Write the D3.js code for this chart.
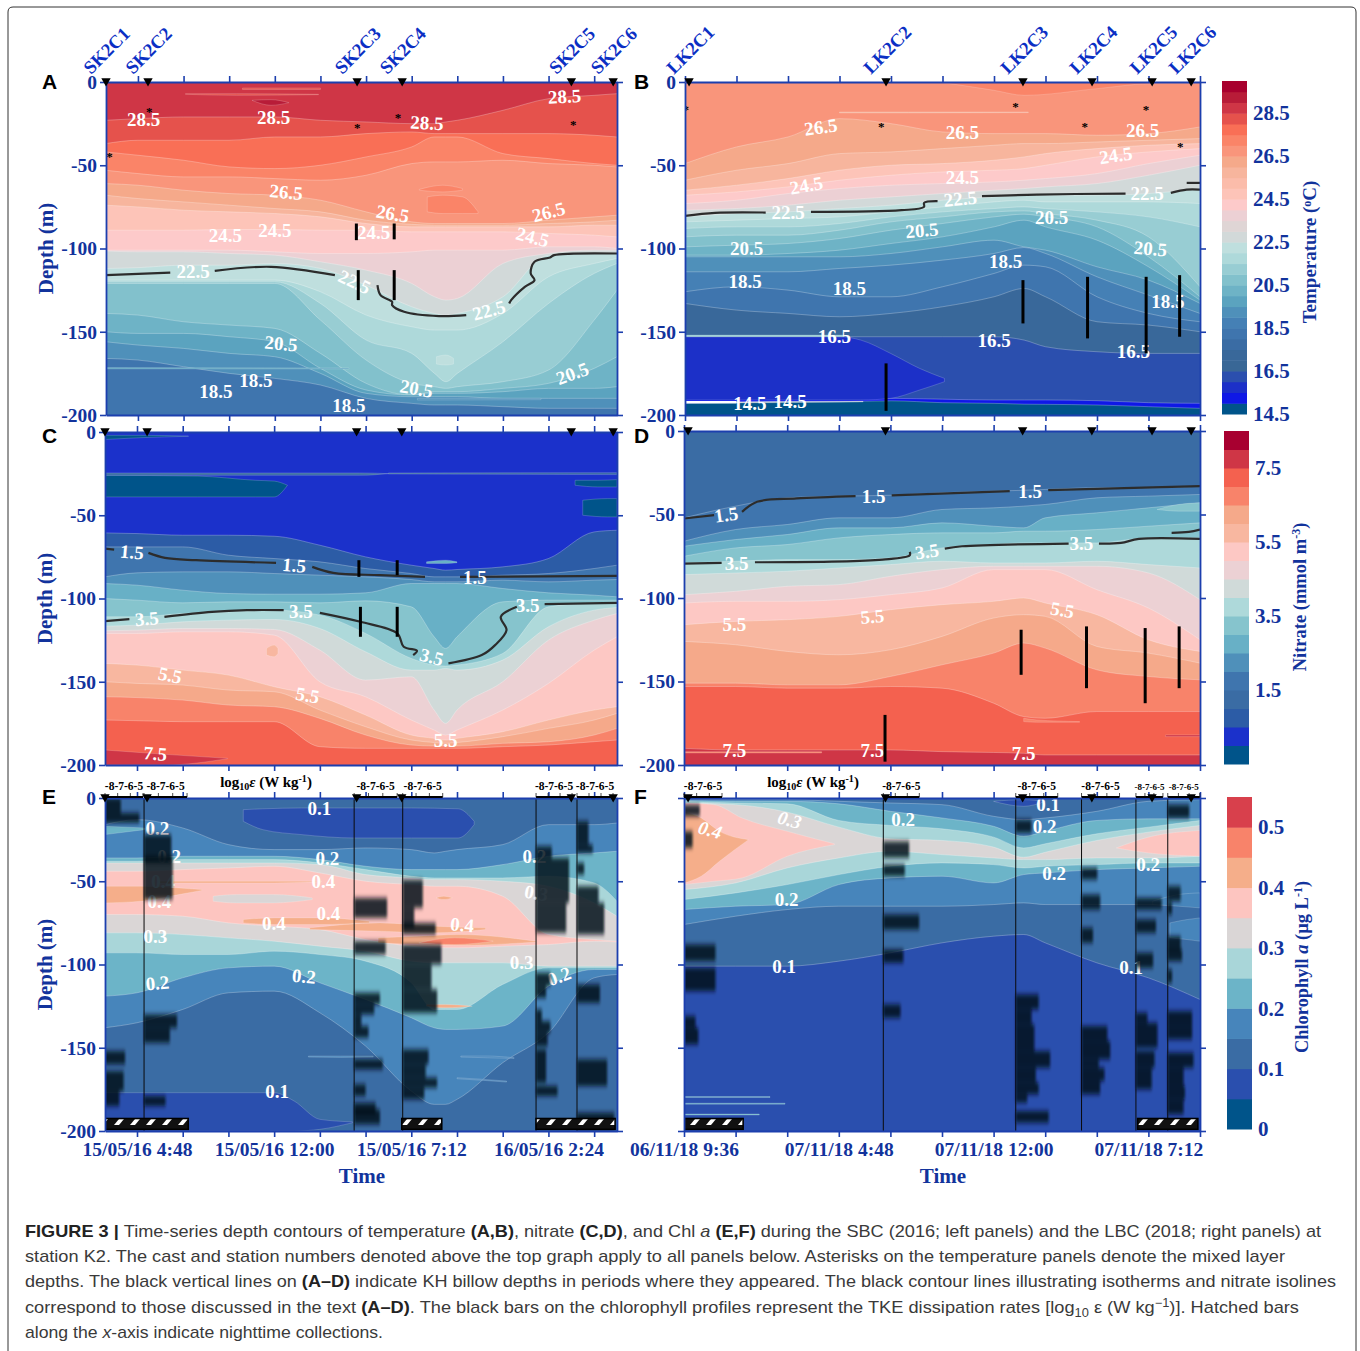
<!DOCTYPE html>
<html><head><meta charset="utf-8">
<script src="https://cdn.jsdelivr.net/npm/d3@7"></script>
<style>html,body{margin:0;padding:0;background:#fff}svg{display:block}text{font-family:"Liberation Serif",serif}</style>
</head><body><div id="chart"></div>
<script>
// ---------- shared data ----------
const sbcNodes=[3.1,4.8,7.2,9.6,12,14.4,16.8,19.2,20.4,21,21.6,24,26.4,28.8,30];
const lbcNodes=[9.6,12,14.4,16.8,19.2,21.6,24,25.4,26.4,28.8,31.2,33.6];
const sbcTicks=[4.8,7.2,9.6,12,14.4,16.8,19.2,21.6,24,26.4,28.8];
const lbcTicks=[9.6,12,14.4,16.8,19.2,21.6,24,26.4,28.8,31.2,33.6];
const sbcTimeLabels=["15/05/16 4:48","","","15/05/16 12:00","","","15/05/16 7:12","","","16/05/16 2:24",""];
const lbcTimeLabels=["06/11/18 9:36","","","07/11/18 4:48","","","07/11/18 12:00","","","07/11/18 7:12",""];
const sbcStations=["SK2C1","SK2C2","SK2C3","SK2C4","SK2C5","SK2C6"];
const lbcStations=["LK2C1","LK2C2","LK2C3","LK2C4","LK2C5","LK2C6"];
const sbcStationHours=[3.12,5.33,16.33,18.7,27.6,29.8];
const lbcStationHours=[9.79,18.97,25.35,28.57,31.37,33.19];
const depthTicks=[0,-50,-100,-150,-200];

const tempPalette=["#00548a","#0f18e6","#1c30c8","#2b4fae","#396796","#39689a","#3a6ca4","#3f75ae","#4580b5","#4f90ba","#5ba3bf","#6eb3c6","#82c1cc","#98cdd3","#aed9da","#bfdfde","#d2d9d9","#dfd5d5","#ecd0d4","#fdcaca","#fdc4b8","#fbbcaa","#f7b59d","#f5a98a","#f9957b","#fa8468","#f96f56","#e5524c","#cf3646","#b81c38","#a8002e"];
const nitratePalette=["#00548a","#1b31cb","#2c5ca6","#3a6ca4","#3f75ae","#4f90ba","#68b0c6","#86c4cd","#aed9da","#d0dad9","#ecd1d4","#fdc8c4","#f8b7a0","#f5a98a","#f8836a","#f4614f","#cf3646","#a80030"];
const chlPalette=["#00548a","#2a4fae","#3a6ca4","#4785bb","#6cb4c8","#a9d6d9","#dad6d6","#fdc5c0","#f5ae8a","#f8836a","#d8404c"];

// ---------- panel A: temperature, SBC ----------
const bandsA=[28.75,28.25,27.75,27.25,26.75,26.25,25.75,24.75,24.25,23.75,22.75,22.25,21.75,21.25,20.75,20.25,19.75,19.25,18.25];
const depthsA=[
[-23,-22,-21,-21,-21,-23,-24,-25,-25,-24,-23,-17,-10,-8,-7],
[-37,-35,-35,-35,-33,-33,-31,-30,-31,-31,-31,-31,-31,-32,-33],
[-42,-44,-47,-51,-52,-50,-45,-39,-33,-33,-33,-43,-46,-49,-50],
[-53,-55,-57,-57,-58,-59,-56,-49,-48,-48,-48,-47,-49,-50,-51],
[-61,-62,-65,-67,-68,-71,-78,-84,-85,-85,-85,-85,-83,-81,-80],
[-68,-70,-72,-74,-76,-78,-83,-85.5,-86,-86,-86,-86,-85,-84,-83],
[-74,-75,-77,-78,-79,-81,-85,-87,-87,-87,-87,-87,-87,-86,-86],
[-89,-89,-89,-88.6,-88.6,-89,-89,-90,-90,-90,-90,-90,-91,-92,-93],
[-101,-101,-101,-101,-102,-103,-103,-102,-101,-101,-101,-101,-99,-99,-100],
[-101.5,-102,-102,-103,-104,-108,-113,-121,-129,-131,-130,-109,-103,-101,-101],
[-112,-111.5,-110,-110,-109,-112,-122,-135,-139,-140,-139,-129,-104,-103,-103],
[-119,-119,-119,-119,-119,-126,-140,-147,-149,-149,-149,-139,-117,-109,-106],
[-120,-120,-120,-120,-120,-133,-155,-163,-175,-180,-175,-156,-133,-115,-109],
[-121,-121,-121,-121,-121,-143,-167,-181,-183,-184,-183,-180,-173,-143,-125],
[-139,-140,-144,-146,-148,-163,-181,-188,-186,-186,-186,-184,-181,-172,-165],
[-150,-151,-151,-153,-156,-172,-185,-188,-187,-187,-187,-186,-184,-184,-183],
[-156,-158,-160,-163,-165,-175,-187,-189,-189,-189,-189,-190,-190,-190,-190],
[-166,-167,-171,-175,-178,-182,-190,-193,-194,-194,-194,-195,-196,-196,-196]];
const pocketsA=[
{v:29.25,x:[10.8,11.8,12.74],top:[-11,-10.6,-12.4],bot:[-11,-14,-12.4]},
{v:28.25,x:[10.3,14.4],top:[-3.6,-3.6],bot:[-4.5,-4.5]},
{v:28.25,x:[7.3,10,14.3],top:[-7,-7,-7.4],bot:[-7.4,-8,-7.6]},
{v:27.25,x:[20.02,20.84,21.87,22.69],top:[-69,-68,-69,-78],bot:[-78,-79,-79,-79]},
{v:27.25,x:[19.6,20.84,21.87],top:[-64.5,-62,-64],bot:[-65,-66,-65]},
{v:22.25,x:[20.5,21,21.4],top:[-165,-164,-166],bot:[-169.4,-170,-169.4]},
{v:19.75,x:[3.1,15.9],top:[-171.5,-171.8],bot:[-172.3,-172.3]},
{v:19.25,x:[19.5,26],top:[-190,-190],bot:[-191,-190.8]}];
const isolinesA=[
[[3.1,-116],[6.5,-114.5]],
[[8.84,-113.4],[11.8,-111],[15.16,-116]],
[[17.4,-122],[17.56,-128],[18.17,-132],[18.17,-134],[18.8,-138],[20.64,-140.6],[22.07,-140]],
[[24.33,-133],[24.43,-131],[25.15,-123],[25.66,-119],[25.46,-115],[25.66,-108],[26.48,-105.4],[26.69,-104],[30,-103]]];
const billowsA=[[16.29,-85,-95],[16.39,-113,-131],[18.28,-85,-94.5],[18.28,-113,-131]];
const mixedLayerA=[[3.3,-43],[5.4,-16],[16.33,-26],[18.48,-20],[27.7,-24]];
const labelsA=[[5.1,-22.6,"28.5",0],[11.94,-21,"28.5",0],[20,-24.4,"28.5",3],[27.24,-8.6,"28.5",-3],[12.6,-66,"26.5",5],[18.2,-79,"26.5",10],[26.4,-78,"26.5",-15],[9.4,-92,"24.5",0],[12,-89,"24.5",0],[17.2,-90,"24.5",0],[25.56,-93,"24.5",15],[7.7,-114,"22.5",0],[16.2,-120,"22.5",25],[23.26,-137,"22.5",-15],[12.33,-157,"20.5",5],[19.45,-184,"20.5",10],[27.65,-175,"20.5",-20],[11,-179,"18.5",0],[8.9,-186,"18.5",0],[15.9,-194,"18.5",0]];

// ---------- panel B: temperature, LBC ----------
const bandsB=[26.75,26.25,25.75,24.75,24.25,23.75,22.75,22.25,21.75,21.25,20.75,20.25,19.75,19.25,18.75,18.25,17.25,16.25,15.25,14.75];
const depthsB=[
[-49,-39,-33,-22,-25,-30,-31,-31,-31,-32,-31,-27],
[-59,-53,-49,-43,-42,-40,-38,-37,-37,-36,-35,-34],
[-65,-62,-58,-53,-50,-49,-47,-45,-43,-40,-38,-37],
[-68,-66,-63,-59,-56,-54,-53,-52,-50,-45,-42,-40],
[-73,-71,-67,-64,-62,-61,-60,-59,-58,-55,-49,-44],
[-77,-76,-74,-71,-69,-67,-65,-64,-63,-61,-56,-50],
[-81,-79,-78,-76,-74,-71,-69,-68,-68,-68,-67,-64],
[-84,-83,-82,-81,-78,-75,-72,-71,-72,-72,-72,-73],
[-88,-87,-87,-85,-81,-78,-76,-75,-76,-78,-81,-87],
[-93,-92,-92,-89,-84,-81,-78,-77.4,-79,-83,-93,-123],
[-99,-98,-97,-94,-89,-85,-81,-79.4,-81,-87,-105,-129],
[-104,-104,-103,-101,-97,-93,-87,-83,-87,-95,-111,-131],
[-105,-105,-105,-105,-103,-99,-95,-99,-101,-111,-119,-133],
[-114,-114,-114,-112,-110,-107,-103,-99.4,-103,-117,-128,-139],
[-126,-123,-125,-129,-129,-123,-115,-110,-111,-129,-139,-144],
[-133,-137,-139,-141,-139,-135,-129,-124,-129,-144,-146,-150],
[-153,-153,-153,-153,-153,-153,-153,-155,-159,-162,-163,-163],
[-190.5,-190.5,-190.5,-190.5,-190,-190.5,-191,-191,-191,-191.4,-192.6,-193],
[-193,-192.5,-192,-192,-191.5,-192.6,-193,-193.5,-193.6,-194,-195,-196]];
const pocketsB=[
{v:27.25,x:[21.6,24,25.4,28.8,31.2,33.6],top:[0,0,0,0,0,0],bot:[-0.3,-5,-8,-4,-1,-0.6]},
{v:25.75,x:[16.8,20,25.6],top:[-18,-18,-18],bot:[-18.6,-18.6,-18.4]},
{v:15.75,x:[9.6,16.77,17.79,19.18,20.53,21.69],top:[-153,-153,-155,-163,-172,-178],bot:[-191,-191,-191,-190,-185,-180]},
{v:22.75,x:[12,17.9],top:[-192,-191.8],bot:[-192.8,-192.2]},
{v:21.25,x:[9.6,17],top:[-152,-152],bot:[-153,-153]}];
const isolinesB=[
[[9.6,-80.4],[11,-78.6],[13.36,-78.4]],
[[15.47,-78],[19.69,-77],[20.74,-75],[20.74,-72.6],[21.37,-71.6]],
[[23.44,-68.6],[26,-67.6],[30.13,-67]],
[[32.24,-66.6],[32.98,-64.6],[33.6,-64.6]],
[[32.98,-60.6],[33.6,-60.6]]];
const billowsB=[[25.35,-119,-145],[28.36,-117,-154],[31.09,-117,-163],[32.65,-116,-153],[18.97,-169,-197.5]];
const mixedLayerB=[[9.64,-15],[18.74,-25],[25,-13],[28.23,-25],[31.08,-15],[32.68,-37]];
const labelsB=[[15.93,-27,"26.5",-8],[22.53,-30,"26.5",0],[30.93,-29,"26.5",0],[29.67,-44,"24.5",-8],[15.25,-62,"24.5",-10],[22.53,-57,"24.5",0],[14.41,-78,"22.5",0],[22.43,-70,"22.5",-5],[31.14,-67,"22.5",0],[12.47,-100,"20.5",0],[20.64,-89,"20.5",-5],[26.69,-81,"20.5",0],[31.29,-100,"20.5",5],[12.4,-120,"18.5",0],[17.26,-124,"18.5",0],[24.54,-108,"18.5",0],[32.1,-132,"18.5",0],[16.56,-153,"16.5",0],[24,-155,"16.5",0],[30.5,-162,"16.5",0],[12.62,-193,"14.5",0],[14.5,-192,"14.5",0]];
const whiteLineB=[[9.6,-192.3],[12,-192.3]];

// ---------- panel C: nitrate, SBC ----------
const bandsC=[0.25,0.75,1.75,2.25,2.75,3.25,3.75,4.25,4.75,5.25,5.75,6.25,6.75,7.25];
const depthsC=[
[-60.6,-61,-62,-62,-62.6,-68,-75,-80,-82,-83,-82.6,-81,-76,-60,-59],
[-69,-69,-69,-74,-76,-78,-82,-85,-87,-87,-87,-86,-85,-82,-80],
[-87,-84.6,-84,-84,-85,-86,-87,-88.6,-90,-90,-90,-89,-90,-89,-88.6],
[-91,-92,-95,-97,-97.4,-97.4,-96.6,-91,-91,-91,-91,-94,-96.6,-98,-99],
[-100,-101,-102.6,-102,-102,-102.6,-101.4,-105,-123,-130,-123,-102,-101,-101,-101],
[-111,-111,-109,-108,-107,-110,-121,-136,-140,-140.6,-140,-133,-105,-102.6,-102],
[-116.6,-116,-114,-113,-112.6,-118,-132,-143,-143,-142,-143,-137,-117,-107,-105.4],
[-119.4,-119,-118,-118,-118.6,-131,-149,-147,-167,-175,-167,-150,-125,-113,-109],
[-121,-121,-120,-120,-122,-150,-159,-173,-179,-182,-179,-167,-151,-131,-123],
[-139,-140,-143,-146,-153,-159,-170,-182,-184,-185,-184,-180,-173,-167,-165],
[-150,-151,-152,-155,-156,-167,-177,-185,-186.5,-187,-186.5,-183,-178,-173,-169],
[-159,-159.5,-161,-164,-165,-172,-182,-188,-188.6,-188.6,-188.6,-187,-186,-182,-178],
[-173,-173.4,-174,-174,-174,-189,-190,-190,-190,-190,-190,-189,-188,-186,-185]];
const pocketsC=[
{v:-0.25,x:[3.1,8,11,12,12.7],top:[-26,-26.5,-29,-29.5,-32],bot:[-39,-39,-39,-39,-32]},
{v:-0.25,x:[3.1,5,7.5],top:[-2,-2,-2.4],bot:[-4.5,-3.4,-2.6]},
{v:-0.25,x:[27.8,29,30],top:[-29,-29,-28.6],bot:[-32,-33,-33]},
{v:-0.25,x:[28.2,29.5,30],top:[-41,-40,-40],bot:[-50,-51,-51]},
{v:1.25,x:[3.1,16.5,18],top:[-24.6,-24.6,-25],bot:[-26,-26,-25]},
{v:1.25,x:[18,30],top:[-24.6,-24.4],bot:[-25.2,-25.6]},
{v:7.75,x:[3.1,6.3,9.56],top:[-191,-193.6,-196],bot:[-200,-200,-196.2]},
{v:2.75,x:[20,21,21.6],top:[-78,-77,-78],bot:[-79,-79,-78.5]},
{v:5.75,x:[11.6,12,12.2],top:[-130,-128,-130],bot:[-134,-135,-133]}];
const isolinesC=[
[[3.1,-70],[3.6,-70.6]],
[[5.4,-72.6],[6.27,-75.6],[7.9,-77],[12.1,-78.6]],
[[14,-81],[15.1,-84.6],[17.56,-86],[19.92,-87]],
[[21.76,-87],[30,-86.4]],
[[3.1,-113.6],[4.4,-112.4]],
[[6.24,-111],[8.74,-108],[10.58,-107],[12.5,-107]],
[[14.4,-108.6],[16.53,-114],[18.47,-121],[18.8,-129],[19.5,-131.4],[19.3,-134]],
[[21.15,-139],[22.9,-134],[23.6,-128],[24.2,-119],[23.9,-111],[24.74,-105]],
[[26.2,-103.4],[30,-102.6]]];
const billowsC=[[16.45,-77,-87],[16.53,-105,-123],[18.46,-77,-86],[18.46,-105,-123]];
const labelsC=[[4.53,-72,"1.5",5],[13.05,-80,"1.5",5],[22.54,-87,"1.5",0],[5.31,-112,"3.5",-5],[13.4,-108,"3.5",0],[25.31,-104,"3.5",0],[20.27,-135,"3.5",15],[6.54,-146,"5.5",12],[13.76,-158,"5.5",10],[21,-185,"5.5",0],[5.76,-193,"7.5",5]];

// ---------- panel D: nitrate, LBC ----------
const bandsD=[1.25,1.75,2.25,2.75,3.25,3.75,4.25,4.75,5.25,5.75,6.25,6.75,7.25,7.75];
const depthsD=[
[-52,-45,-40,-39,-38.5,-37,-36,-35.5,-35,-34,-34,-33],
[-66,-59,-56,-52,-52,-47,-46,-45,-44,-40,-39,-38],
[-69,-65,-62,-58,-58,-55,-57,-58,-52,-49,-46,-43],
[-75,-70,-68,-64,-62,-61,-61,-60,-60,-59,-57,-55],
[-79,-78,-77,-77,-76,-70,-68,-67,-67,-67,-64,-64],
[-86,-85,-84,-82,-80,-78,-79,-79,-79,-78,-80,-82],
[-98,-96,-93,-92,-87,-83,-81,-81,-81,-81,-85,-101],
[-103,-102,-102,-101,-98,-94,-83,-83,-83,-95,-106,-125],
[-116,-114,-113,-111,-107,-104,-102,-100,-103,-110,-125,-132],
[-126,-128,-132,-134,-131,-123,-112,-110,-111,-129,-133,-139],
[-151,-151,-152,-152,-147,-140,-133,-127,-130,-143,-147,-149],
[-153,-153,-154,-154,-153,-154,-163,-171,-172,-168,-168,-168],
[-190,-191,-191,-191,-191,-192,-192.5,-193,-194,-194,-194,-194]];
const pocketsD=[
{v:3.25,x:[31.6,32.6,33.6],top:[-47,-44,-43],bot:[-47,-48,-48]},
{v:7.75,x:[32,33.6],top:[-182,-182],bot:[-183,-183]},
{v:6.75,x:[25.4,26,28],top:[-172,-173,-174],bot:[-174,-174.4,-174.4]},
{v:6.75,x:[9.6,16],top:[-192,-192],bot:[-192.8,-192.8]}];
const isolinesD=[
[[9.6,-52.4],[11,-50.4]],
[[12.3,-48.4],[13,-42.4],[14.83,-40.4],[17.58,-39]],
[[19.26,-38.6],[24.75,-36]],
[[26.54,-35.4],[33.6,-33]],
[[9.6,-79.4],[11.35,-79]],
[[12.9,-78.6],[18.84,-77],[20.1,-74.4],[20.1,-72.4]],
[[21.73,-70.4],[22.53,-69],[27.49,-67.4]],
[[28.9,-67.4],[29.92,-67],[30.76,-64.6],[33.6,-64.6]],
[[32.28,-61],[33.08,-60.4],[33.6,-59]]];
const billowsD=[[25.28,-119,-146],[28.32,-117,-154],[31.05,-118,-163],[32.63,-117,-154],[18.95,-170,-198]];
const labelsD=[[11.56,-50,"1.5",-8],[18.42,-39,"1.5",0],[25.7,-36,"1.5",0],[12.05,-79,"3.5",0],[20.9,-72,"3.5",-8],[28.08,-67,"3.5",0],[11.94,-116,"5.5",0],[18.36,-111,"5.5",-5],[27.2,-107,"5.5",10],[11.94,-191,"7.5",0],[18.36,-191,"7.5",0],[25.4,-193,"7.5",0]];

// ---------- panel E: chlorophyll, SBC ----------
const bandsE=[0.125,0.175,0.225,0.275,0.325,0.375,0.325,0.275,0.225,0.175,0.125];
const depthsE=[
[-16,-13,-18,-28,-31,-31,-30,-31,-33,-32,-31,-28,-16,-16,-15],
[-36,-36,-35,-35,-35,-37,-41,-43,-43,-43,-43,-40,-35,-33,-32],
[-38,-38,-37,-37,-37,-39,-43,-47,-48,-48,-48,-48,-47,-51,-62],
[-39,-39,-39,-39,-39,-40,-46,-48,-49,-49,-49,-50,-53,-63,-71],
[-44,-44,-43,-42,-41,-45,-50,-52,-53,-53,-53,-59,-82,-85,-86],
[-70,-70,-71,-75,-77,-79,-85,-89,-90,-90,-90,-89,-88,-86,-86.5],
[-81,-81,-82,-84,-86,-89,-92,-98,-99,-99,-99,-99,-101,-101,-101],
[-93,-93,-94,-94,-92,-94,-98,-111,-127,-127,-127,-112,-102,-102,-102],
[-119,-117,-108,-102,-101,-111,-121,-132,-138,-139,-139,-137,-113,-103,-103],
[-138,-135,-127,-117,-116,-129,-149,-176,-184,-184,-181,-159,-141,-108,-106]];
const pocketsE=[
{v:0.075,x:[10.38,11.4,13.46,16.2,19.2,21.66,22.5],top:[-7,-6.5,-6,-6,-6,-6.5,-14],bot:[-14,-19,-22,-24,-24,-24,-16]},
{v:0.075,x:[3.1,12,13.05,14.4,16.12],top:[-177,-177,-182,-193,-194.5],bot:[-200,-200,-200,-199,-195]},
{v:0.225,x:[3.1,5.2],top:[-17,-18],bot:[-22,-19]},
{v:0.325,x:[8.8,10,12,14],top:[-59,-58,-58,-60],bot:[-62,-63,-63,-61]},
{v:0.425,x:[3.1,5,7,8.2],top:[-53,-53,-54,-55],bot:[-63,-62,-58,-55.5]},
{v:0.425,x:[6,9,12,14.5],top:[-50,-50,-50,-50],bot:[-51,-51,-51,-50.2]},
{v:0.425,x:[10.38,12,14.4,17],top:[-73,-72,-72,-74],bot:[-75,-76,-76,-75]},
{v:0.425,x:[13.87,17.56,20.43,23.1],top:[-78,-75,-77,-78],bot:[-79,-80,-81,-79]},
{v:0.425,x:[17.46,19.6,21.66,25.76],top:[-84,-83,-82,-86],bot:[-87,-88,-88.5,-86.5]},
{v:0.475,x:[19.6,21.46,23.5],top:[-87,-84,-86],bot:[-87,-88,-86]},
{v:0.425,x:[20.5,20.9,21.36],top:[-60,-59,-60],bot:[-60,-61,-60]},
{v:0.425,x:[20,21,22.4],top:[-124,-124,-125],bot:[-125,-126,-125]},
{v:0.175,x:[21.8,23.2,24.6],top:[-155,-155,-156],bot:[-155.6,-156,-156.4]},
{v:0.175,x:[21.6,23,24.2],top:[-168,-169,-170],bot:[-168.6,-169.6,-170.6]},
{v:0.175,x:[13.8,15.5,17.2],top:[-155,-155,-155],bot:[-155.6,-155.8,-155.6]}];
const labelsE=[[14.38,-6,"0.1",0],[5.87,-18,"0.2",0],[6.48,-35,"0.2",0],[14.79,-36,"0.2",0],[6.17,-50,"0.4",0],[14.58,-50,"0.4",0],[5.97,-62,"0.4",0],[14.85,-69,"0.4",0],[11.98,-75,"0.4",0],[21.87,-76,"0.4",5],[5.76,-83,"0.3",0],[25.66,-35,"0.2",0],[25.76,-57,"0.3",10],[24.99,-99,"0.3",0],[13.56,-107,"0.2",5],[5.87,-111,"0.2",-5],[26.95,-107,"0.2",-20],[12.16,-176,"0.1",0]];
const castHoursE=[3.12,5.17,16.2,18.75,25.75,27.9];
const logAxisWidthE=[38,43,43,40,36,36];
const epsilonE=[
[[-0,-9,-6.9],[-9,-15,-5.6],[-152,-160,-6.6],[-164,-176,-6.7],[-176,-185,-7]],
[[-22,-39,-6.1],[-35,-61,-6],[-130,-138,-5.7],[-138,-147,-6.2],[-179,-185,-6.5]],
[[-60,-72,-5.7],[-86,-94,-5.8],[-117,-124,-6.2],[-124,-130,-6.6],[-130,-137,-7.5],[-137,-144,-7],[-157,-163,-6],[-172,-179,-7.2],[-183,-190,-6.5],[-187,-196,-6.2]],
[[-49,-66,-6.6],[-66,-78,-7.2],[-75,-82,-5.7],[-88,-100,-5.3],[-100,-115,-6],[-115,-129,-5.6],[-151,-160,-6.2],[-160,-168,-6.4],[-168,-174,-5.6],[-174,-181,-6.5]],
[[-29,-36,-6.9],[-36,-63,-5.7],[-63,-81,-5.9],[-105,-113,-7],[-113,-120,-7.3],[-127,-134,-7.6],[-134,-141,-7],[-141,-149,-7.2],[-151,-171,-7.3],[-173,-179,-6.5]],
[[-14,-28,-7.2],[-28,-33,-6.9],[-39,-46,-7.5],[-53,-63,-6.5],[-63,-82,-6.1],[-112,-123,-6.4],[-157,-173,-5.9],[-189,-199,-5.4]]];
const nightE=[[3.1,7.49],[18.7,20.8],[25.75,29.9]];

// ---------- panel F: chlorophyll, LBC ----------
const bandsF=[0.125,0.175,0.225,0.275,0.325,0.275,0.225,0.175,0.125,0.075];
const depthsF=[
[-1,-1,-1,-2,-3,-4,-11,-13,-12,-8,-2,-1],
[-1.5,-2,-2,-3.5,-8,-12,-17,-23,-20,-13.5,-12.5,-12.5],
[-2,-3,-3.5,-13.5,-16.5,-18.5,-23.5,-30,-27.5,-21.5,-17.5,-13.5],
[-3,-4,-8.5,-17.5,-24.5,-25.5,-29.5,-35.6,-32.6,-25.5,-20.5,-16.5],
[-55,-51,-42,-36,-32,-34,-36,-37,-37,-36,-36,-35],
[-61,-57,-52,-46,-41,-39,-40,-42,-41,-40,-39,-39],
[-67,-65,-64,-52,-48,-47,-51,-46,-45,-43,-42,-41],
[-76,-71,-67,-65,-65,-65,-64,-63,-64,-64,-64,-65],
[-101,-101,-101,-98,-93,-87,-83,-82,-87,-99,-108,-121]];
const pocketsF=[
{v:0.375,x:[9.6,11,12.3,14.4,16.6],top:[-3,-4,-12,-20,-27.5],bot:[-52,-50,-48,-35,-28]},
{v:0.425,x:[9.6,10.4,11.25,12.6],top:[-8,-12,-20,-25],bot:[-51,-47,-38,-25]},
{v:0.375,x:[29.7,31.2,33.6],top:[-30,-23.5,-19.5],bot:[-30,-33,-35]},
{v:0.075,x:[24,25.4,26.4],top:[-2,-1,-2],bot:[-2,-5,-2]},
{v:0.225,x:[9.6,13.6],top:[-179.3,-179.3],bot:[-179.9,-179.9]},
{v:0.225,x:[9.6,14.3],top:[-183.3,-183.3],bot:[-183.9,-183.9]},
{v:0.225,x:[9.6,13.1],top:[-189.8,-189.8],bot:[-190.4,-190.4]},
{v:0.175,x:[31.4,32.6,33.6],top:[-62,-58,-57],bot:[-64,-65,-66]},
{v:0.175,x:[32.2,33,33.6],top:[-75,-73,-72],bot:[-84,-85,-86]}];
const labelsF=[[26.54,-4,"0.1",0],[19.79,-13,"0.2",0],[26.37,-17,"0.2",0],[26.82,-45,"0.2",0],[14.37,-61,"0.2",0],[31.19,-40,"0.2",0],[10.82,-19,"0.4",15,1],[14.52,-13,"0.3",15,1],[14.26,-101,"0.1",0],[30.4,-102,"0.1",0]];
const castHoursF=[9.6,18.87,25.03,28.09,30.62,32.1];
const logAxisWidthF=[38,36,42,38,27,32];
const epsilonF=[
[[-4,-11,-6.9],[-20,-30,-7.4],[-88,-98,-5.8],[-102,-116,-5.8],[-131,-138,-7.2],[-138,-148,-7]],
[[-26,-36,-6.2],[-40,-47,-6.5],[-70,-79,-5.5],[-91,-99,-6.6],[-124,-132,-6.8]],
[[-13,-21,-6.9],[-118,-127,-6.4],[-127,-136,-6.9],[-136,-152,-6.7],[-152,-162,-5.6],[-162,-171,-6.6],[-171,-178,-6.4],[-178,-183,-7.2],[-188,-195,-5.7]],
[[-42,-49,-6.9],[-58,-67,-6.7],[-78,-87,-7.2],[-137,-146,-6.2],[-146,-157,-6],[-157,-162,-6.8],[-162,-170,-6.4],[-170,-178,-6.7]],
[[-60,-67,-6.2],[-73,-81,-6.6],[-93,-102,-6.8],[-129,-135,-7.2],[-135,-150,-6.5],[-152,-162,-6.7],[-162,-175,-6.9]],
[[-4,-12,-6.5],[-53,-62,-7.1],[-63,-70,-7.7],[-83,-92,-7.1],[-91,-98,-7],[-103,-111,-7.7],[-128,-137,-6.3],[-137,-145,-6.3],[-153,-162,-6.2],[-162,-173,-6.9],[-173,-181,-6.8],[-181,-190,-6.9]]];
const nightF=[[9.6,12.35],[30.7,33.5]];

// ---------- colour bars ----------
const tempBarLabels=[14.5,16.5,18.5,20.5,22.5,24.5,26.5,28.5];
const nitrateBarLabels=[1.5,3.5,5.5,7.5];
const chlBarLabels=[0,0.1,0.2,0.3,0.4,0.5];
const logAxisLabel="-8-7-6-5";
const captionLines=[
[["FIGURE 3 | ",1],["Time-series depth contours of temperature ",0],["(A,B)",1],[", nitrate ",0],["(C,D)",1],[", and Chl ",0],["a",2],[" ",0],["(E,F)",1],[" during the SBC (2016; left panels) and the LBC (2018; right panels) at",0]],
[["station K2. The cast and station numbers denoted above the top graph apply to all panels below. Asterisks on the temperature panels denote the mixed layer",0]],
[["depths. The black vertical lines on ",0],["(A–D)",1],[" indicate KH billow depths in periods where they appeared. The black contour lines illustrating isotherms and nitrate isolines",0]],
[["correspond to those discussed in the text ",0],["(A–D)",1],[". The black bars on the chlorophyll profiles represent the TKE dissipation rates [log",0],["10",3],[" ε (W kg",0],["−1",4],[")]. Hatched bars",0]],
[["along the ",0],["x",2],["-axis indicate nighttime collections.",0]]];
const captionWidths=[1296,1260,1311,1274,358];

// ---------- drawing ----------
const BLUE="#12339c",FRAME="#1c3fae";
const svg=d3.select("#chart").append("svg").attr("width",1360).attr("height",1351).attr("viewBox","0 0 1360 1351");
svg.append("rect").attr("width",1360).attr("height",1351).attr("fill","#fff");
svg.append("path").attr("d","M8,1351V12Q8,7 13,7H1351Q1356,7 1356,12V1351").attr("fill","none").attr("stroke","#333").attr("stroke-width",1);
const defs=svg.append("defs");
defs.append("filter").attr("id","blurEps").attr("x","-20%").attr("y","-5%").attr("width","140%").attr("height","110%")
  .append("feGaussianBlur").attr("stdDeviation","1 2.4");
const hatch=defs.append("pattern").attr("id","hatch").attr("width",16).attr("height",12).attr("patternUnits","userSpaceOnUse");
hatch.append("rect").attr("width",16).attr("height",12).attr("fill","#111");
hatch.append("path").attr("d","M2,9L7,3H12L7,9Z").attr("fill","#fff");

function quant(dom,pal){return d3.scaleQuantize().domain(dom).range(pal);}
const tempColor=quant([14.5,30],tempPalette),nitrateColor=quant([-0.5,8.5],nitratePalette),chlColor=quant([0,0.55],chlPalette);

function panel(c){
  const x=d3.scaleLinear().domain(c.domain).range([c.x0,c.x1]);
  const y=d3.scaleLinear().domain([0,-200]).range([c.y0,c.y1]);
  const clipId="clip"+c.letter;
  defs.append("clipPath").attr("id",clipId).append("rect").attr("x",c.x0).attr("y",c.y0).attr("width",c.x1-c.x0).attr("height",c.y1-c.y0);
  const g=svg.append("g").attr("clip-path",`url(#${clipId})`);
  g.append("rect").attr("x",c.x0).attr("y",c.y0).attr("width",c.x1-c.x0).attr("height",c.y1-c.y0).attr("fill",c.color(c.bands[0]));
  const curve=d3.curveMonotoneX;
  c.depths.forEach((row,i)=>{
    const pts=row.map((d,j)=>[c.nodes[j],d]);
    g.append("path").datum(pts).attr("fill",c.color(c.bands[i+1]))
      .attr("d",d3.area().x(d=>x(d[0])).y0(d=>y(d[1])).y1(c.y1).curve(curve));
    g.append("path").datum(pts).attr("fill","none").attr("stroke","#fff").attr("stroke-opacity",.33).attr("stroke-width",.8)
      .attr("d",d3.line().x(d=>x(d[0])).y(d=>y(d[1])).curve(curve));
  });
  (c.pockets||[]).forEach(p=>{
    const pts=p.x.map((v,j)=>[v,p.top[j],p.bot[j]]);
    g.append("path").datum(pts).attr("fill",c.color(p.v)).attr("stroke","#fff").attr("stroke-opacity",.3).attr("stroke-width",.6)
      .attr("d",d3.area().x(d=>x(d[0])).y0(d=>y(d[1])).y1(d=>y(d[2])).curve(curve));
  });
  if(c.whiteLine) g.append("path").datum(c.whiteLine).attr("fill","none").attr("stroke","#fff").attr("stroke-width",2.5)
      .attr("d",d3.line().x(d=>x(d[0])).y(d=>y(d[1])));
  const iso=d3.line().x(d=>x(d[0])).y(d=>y(d[1])).curve(d3.curveCatmullRom.alpha(.5));
  (c.isolines||[]).forEach(s=>g.append("path").datum(s).attr("fill","none").attr("stroke","#2c2c2c").attr("stroke-width",2.2).attr("d",iso));
  (c.casts||[]).slice(1).forEach(h=>g.append("line").attr("x1",x(h)).attr("x2",x(h)).attr("y1",c.y0).attr("y2",c.y1).attr("stroke","#0a0a0a").attr("stroke-width",1));
  c.labels.forEach(l=>{
    g.append("text").attr("transform",`translate(${x(l[0])},${y(l[1])}) rotate(${l[3]})`)
      .attr("text-anchor","middle").attr("dy","0.35em").attr("fill","#fff").attr("font-weight","bold")
      .attr("font-style",l[4]?"italic":"normal").attr("font-size",19).text(l[2]);
  });
  if(c.epsilon){
    const w=d3.scaleLinear().domain([-8,-5]).range([0,43]);
    const eg=g.append("g").attr("filter","url(#blurEps)");
    c.epsilon.forEach((cast,i)=>cast.forEach(b=>{
      eg.append("rect").attr("x",x(c.casts[i])).attr("y",y(b[0])).attr("width",w(b[2])).attr("height",y(b[1])-y(b[0]))
        .attr("fill","#071018").attr("fill-opacity",.84);
    }));
  }
  (c.billows||[]).forEach(b=>g.append("line").attr("x1",x(b[0])).attr("x2",x(b[0])).attr("y1",y(b[1])).attr("y2",y(b[2])).attr("stroke","#000").attr("stroke-width",3));
  (c.stars||[]).forEach(s=>g.append("text").attr("x",x(s[0])).attr("y",y(s[1])).attr("dy","0.55em").attr("text-anchor","middle").attr("font-size",13).attr("font-weight","bold").attr("fill","#000").text("*"));
  (c.night||[]).forEach(n=>g.append("rect").attr("x",x(n[0])).attr("y",y(-192.5)).attr("width",x(n[1])-x(n[0])).attr("height",y(-199)-y(-192.5))
      .attr("fill","url(#hatch)").attr("stroke","#000").attr("stroke-width",1.6));
  const style=s=>{s.selectAll("path").attr("stroke",FRAME).attr("stroke-width",1.8);s.selectAll("line").attr("stroke",FRAME).attr("stroke-width",1.6);
    s.selectAll("text").attr("fill",BLUE).attr("font-weight","bold").attr("font-family","Liberation Serif").attr("font-size",19.5);};
  const a=svg.append("g");
  a.append("g").attr("transform",`translate(0,${c.y0})`).call(d3.axisTop(x).tickValues(c.ticks).tickSize(6).tickSizeOuter(0).tickFormat("")).call(style);
  const bot=d3.axisBottom(x).tickValues(c.ticks).tickSize(6).tickSizeOuter(0).tickPadding(5);
  bot.tickFormat((d,i)=>c.timeLabels?c.timeLabels[i]:"");
  a.append("g").attr("transform",`translate(0,${c.y1})`).call(bot).call(style);
  a.append("g").attr("transform",`translate(${c.x0},0)`).call(d3.axisLeft(y).tickValues(depthTicks).tickSize(6).tickSizeOuter(0).tickPadding(3).tickFormat(c.noDepthLabels?"":d=>d)).call(style);
  a.append("g").attr("transform",`translate(${c.x1},0)`).call(d3.axisRight(y).tickValues(depthTicks).tickSize(6).tickSizeOuter(0).tickFormat("")).call(style);
  const tri=d3.symbol().type(d3.symbolTriangle).size(38);
  c.stations.forEach(h=>a.append("path").attr("d",tri()).attr("transform",`translate(${x(h)},${c.y0-1}) rotate(180)`).attr("fill","#000"));
  (c.names||[]).forEach((n,i)=>a.append("text").attr("transform",`translate(${x(c.stations[i])-15},${c.y0-7}) rotate(-45)`)
      .attr("fill","#0b2fc4").attr("font-size",18.5).attr("font-weight","bold").text(n));
  if(c.logWidths){
    c.casts.forEach((h,i)=>{
      const w=c.logWidths[i],x0=x(h),lx=d3.scaleLinear().domain([-8,-5]).range([x0,x0+w]);
      const lg=a.append("g");
      lg.append("line").attr("x1",x0).attr("x2",x0+w).attr("y1",c.y0-1).attr("y2",c.y0-1).attr("stroke","#000").attr("stroke-width",2);
      [-8,-7,-6,-5].forEach(v=>lg.append("line").attr("x1",lx(v)).attr("x2",lx(v)).attr("y1",c.y0-1).attr("y2",c.y0-5).attr("stroke","#000").attr("stroke-width",.7));
      const small=w<33;
      lg.append("text").attr("x",x0+w/2).attr("y",c.y0-8).attr("text-anchor","middle").attr("font-weight","bold").attr("fill","#000")
        .attr("font-size",small?9:11.5).text(logAxisLabel);
    });
  }
  svg.append("text").attr("x",c.letterX).attr("y",c.y0+c.letterDy).attr("style","font-family:'Liberation Sans'").attr("font-weight","bold").attr("font-size",21).attr("fill","#000").text(c.letter);
  if(c.depthTitle) svg.append("text").attr("transform",`translate(${c.x0-53},${(c.y0+c.y1)/2}) rotate(-90)`).attr("text-anchor","middle").attr("fill",BLUE).attr("font-size",21).attr("font-weight","bold").text("Depth (m)");
}
const common={A:{x0:106,x1:617,domain:[3.12,30],nodes:sbcNodes,ticks:sbcTicks,stations:sbcStationHours},
              B:{x0:685,x1:1200,domain:[9.6,33.6],nodes:lbcNodes,ticks:lbcTicks,stations:lbcStationHours}};
panel({...common.A,letter:"A",letterX:42,letterDy:7,depthTitle:true,y0:82,y1:415,color:tempColor,bands:bandsA,depths:depthsA,pockets:pocketsA,isolines:isolinesA,billows:billowsA,stars:mixedLayerA,labels:labelsA,names:sbcStations});
panel({...common.B,letter:"B",letterX:634,letterDy:7,y0:82,y1:415,color:tempColor,bands:bandsB,depths:depthsB,pockets:pocketsB,isolines:isolinesB,billows:billowsB,stars:mixedLayerB,labels:labelsB,names:lbcStations,whiteLine:whiteLineB});
panel({...common.A,x0:105,letter:"C",letterX:42,letterDy:11,depthTitle:true,y0:432,y1:765,color:nitrateColor,bands:bandsC,depths:depthsC,pockets:pocketsC,isolines:isolinesC,billows:billowsC,labels:labelsC});
panel({...common.B,x0:684,letter:"D",letterX:634,letterDy:12,y0:431,y1:765,color:nitrateColor,bands:bandsD,depths:depthsD,pockets:pocketsD,isolines:isolinesD,billows:billowsD,labels:labelsD});
panel({...common.A,x0:105,letter:"E",letterX:42,letterDy:6,depthTitle:true,y0:798,y1:1131,color:chlColor,bands:bandsE,depths:depthsE,pockets:pocketsE,labels:labelsE,casts:castHoursE,epsilon:epsilonE,logWidths:logAxisWidthE,night:nightE,timeLabels:sbcTimeLabels});
panel({...common.B,x0:684,letter:"F",letterX:634,letterDy:6,y0:798,y1:1131,color:chlColor,bands:bandsF,depths:depthsF,pockets:pocketsF,labels:labelsF,casts:castHoursF,epsilon:epsilonF,logWidths:logAxisWidthF,night:nightF,timeLabels:lbcTimeLabels,noDepthLabels:true});

[[362,"Time"],[943,"Time"]].forEach(t=>svg.append("text").attr("x",t[0]).attr("y",1183).attr("text-anchor","middle").attr("fill",BLUE).attr("font-weight","bold").attr("font-size",21).text(t[1]));
[266,813].forEach(cx=>{
  const t=svg.append("text").attr("x",cx).attr("y",787).attr("text-anchor","middle").attr("fill","#000").attr("font-weight","bold").attr("font-size",15);
  t.append("tspan").text("log");t.append("tspan").attr("font-size",10).attr("dy",3).text("10");
  t.append("tspan").attr("dy",-3).attr("font-style","italic").text("ε");t.append("tspan").text(" (W kg");
  t.append("tspan").attr("font-size",10).attr("dy",-5).text("-1");t.append("tspan").attr("dy",5).text(")");
});
function colorBar(o){
  const s=d3.scaleLinear().domain(o.domain).range([o.y1,o.y0]);
  const n=o.palette.length,step=(o.domain[1]-o.domain[0])/n;
  o.palette.forEach((col,i)=>svg.append("rect").attr("x",o.x).attr("width",25).attr("y",s(o.domain[0]+(i+1)*step)).attr("height",s(o.domain[0]+i*step)-s(o.domain[0]+(i+1)*step)+.5).attr("fill",col));
  const ax=d3.axisRight(s).tickValues(o.labels).tickSize(0).tickPadding(6).tickFormat(o.fmt);
  const g=svg.append("g").attr("transform",`translate(${o.x+25},0)`).call(ax);
  g.select("path").remove();
  g.selectAll("text").attr("fill",BLUE).attr("font-size",21).attr("font-weight","bold").attr("font-family","Liberation Serif");
  const t=svg.append("text").attr("transform",`translate(${o.titleX},${o.titleY}) rotate(-90)`).attr("text-anchor","middle").attr("fill",BLUE).attr("font-size",o.titleSize).attr("font-weight","bold");
  o.title(t);
}
colorBar({x:1222,y0:81,y1:414,domain:[14.5,30],palette:tempPalette,labels:tempBarLabels,fmt:d3.format(".1f"),titleX:1316,titleY:252,titleSize:19,
  title:t=>{t.append("tspan").text("Temperature (");t.append("tspan").attr("font-size",12).attr("dy",-5).text("o");t.append("tspan").attr("dy",5).text("C)");}});
colorBar({x:1224,y0:431,y1:764,domain:[-0.5,8.5],palette:nitratePalette,labels:nitrateBarLabels,fmt:d3.format(".1f"),titleX:1306,titleY:597,titleSize:18.5,
  title:t=>{t.append("tspan").text("Nitrate (mmol m");t.append("tspan").attr("font-size",12).attr("dy",-6).text("-3");t.append("tspan").attr("dy",6).text(")");}});
colorBar({x:1227,y0:797,y1:1129,domain:[0,0.55],palette:chlPalette,labels:chlBarLabels,fmt:d=>d===0?"0":d3.format(".1f")(d),titleX:1308,titleY:967,titleSize:18.4,
  title:t=>{t.append("tspan").text("Chlorophyll ");t.append("tspan").attr("font-style","italic").text("a");t.append("tspan").text(" (µg L");t.append("tspan").attr("font-size",12).attr("dy",-6).text("-1");t.append("tspan").attr("dy",6).text(")");}});
captionLines.forEach((line,i)=>{
  const t=svg.append("text").attr("x",25).attr("y",1237+i*25.2).attr("fill","#3a3a3a").attr("font-size",17)
    .attr("style","font-family:'Liberation Sans'").attr("textLength",captionWidths[i]).attr("lengthAdjust","spacingAndGlyphs");
  line.forEach(p=>{
    const s=t.append("tspan").text(p[0]);
    if(p[1]===1) s.attr("font-weight","bold").attr("fill","#222");
    if(p[1]===2) s.attr("font-style","italic");
    if(p[1]===3) s.attr("font-size",12).attr("dy",4);
    if(p[1]===4) s.attr("font-size",12).attr("dy",-6);
    if(p[0].startsWith(" ε")) s.attr("dy",-4);
    if(p[0].startsWith(")]")) s.attr("dy",6);
  });
});
</script></body></html>
